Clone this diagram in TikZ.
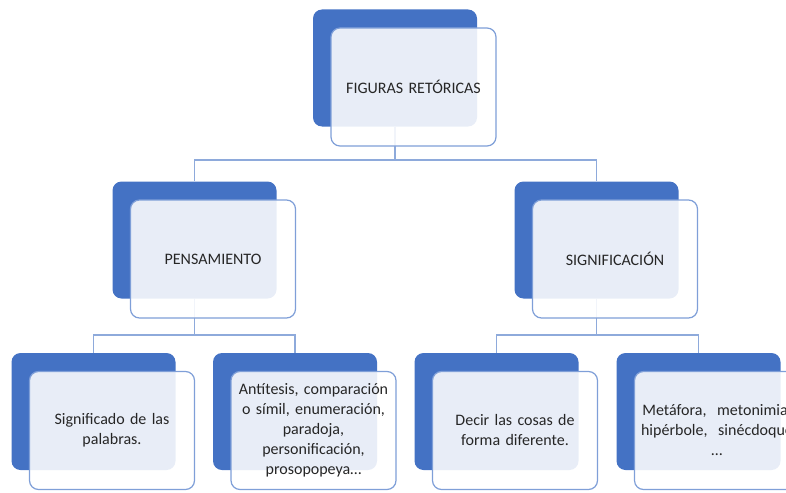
\documentclass[tikz,border=0pt]{standalone}
\usepackage{fontspec}
\setmainfont{Carlito}
\usetikzlibrary{backgrounds}
\definecolor{accent}{HTML}{4472C4}
\definecolor{frontline}{HTML}{7F9FD8}
\definecolor{connc}{HTML}{8EAADB}
\definecolor{txt}{HTML}{262626}
\begin{document}
\begin{tikzpicture}[x=1pt,y=-1pt,
 backbox/.style={draw=none, fill=accent, rounded corners=9pt, minimum width=164pt, minimum height=117pt, inner sep=0pt},
 frontbox/.style={draw=frontline, line width=1.2pt, fill=white, fill opacity=0.88, text opacity=1, draw opacity=1, rounded corners=9pt, minimum width=165pt, minimum height=118pt, text width=162pt, align=center, inner sep=0pt, font=\fontsize{16}{20}\selectfont, text=txt},
 conn/.style={draw=connc, line width=1.5pt}]
\useasboundingbox (0,0) rectangle (786,492);
\clip (0,0) rectangle (786,492);
% back boxes
\node[backbox] (b0) at (395,68) {};
\node[backbox] (b1) at (194.5,240) {};
\node[backbox] (b2) at (596.5,240) {};
\node[backbox] (b11) at (93.5,411.5) {};
\node[backbox] (b12) at (295,411.5) {};
\node[backbox] (b21) at (496.5,411.5) {};
\node[backbox] (b22) at (698.5,411.5) {};
% front boxes
\node[frontbox] (f0) at ([shift={(18.5,19)}]b0.center) {FIGURAS RETÓRICAS};
\node[frontbox] (f1) at ([shift={(18.5,19)}]b1.center) {PENSAMIENTO};
\node[frontbox] (f2) at ([shift={(18.5,19)}]b2.center) {SIGNIFICACIÓN};
\node[frontbox] (f11) at ([shift={(18.5,19)}]b11.center) {Significado de las\\palabras.};
\node[frontbox] (f12) at ([shift={(18.5,19)}]b12.center) {Antítesis, comparación\\o símil, enumeración,\\paradoja,\\personificación,\\prosopopeya…};
\node[frontbox] (f21) at ([shift={(18.5,19)}]b21.center) {Decir las cosas de\\forma diferente.};
\node[frontbox] (f22) at ([shift={(18.5,19)}]b22.center) {Metáfora,\ \ metonimia,\\hipérbole,\ \ sinécdoque\\…};
% connectors
\coordinate (j0) at (395,160);
\coordinate (j1) at (194.5,335);
\coordinate (j2) at (596.5,335);
\begin{scope}[on background layer]
\draw[conn] (b0.south) -- (j0) -| (b1.north);
\draw[conn] (j0) -| (b2.north);
\draw[conn] (b1.south) -- (j1) -| (b11.north);
\draw[conn] (j1) -| (b12.north);
\draw[conn] (b2.south) -- (j2) -| (b21.north);
\draw[conn] (j2) -| (b22.north);
\end{scope}
\end{tikzpicture}
\end{document}
